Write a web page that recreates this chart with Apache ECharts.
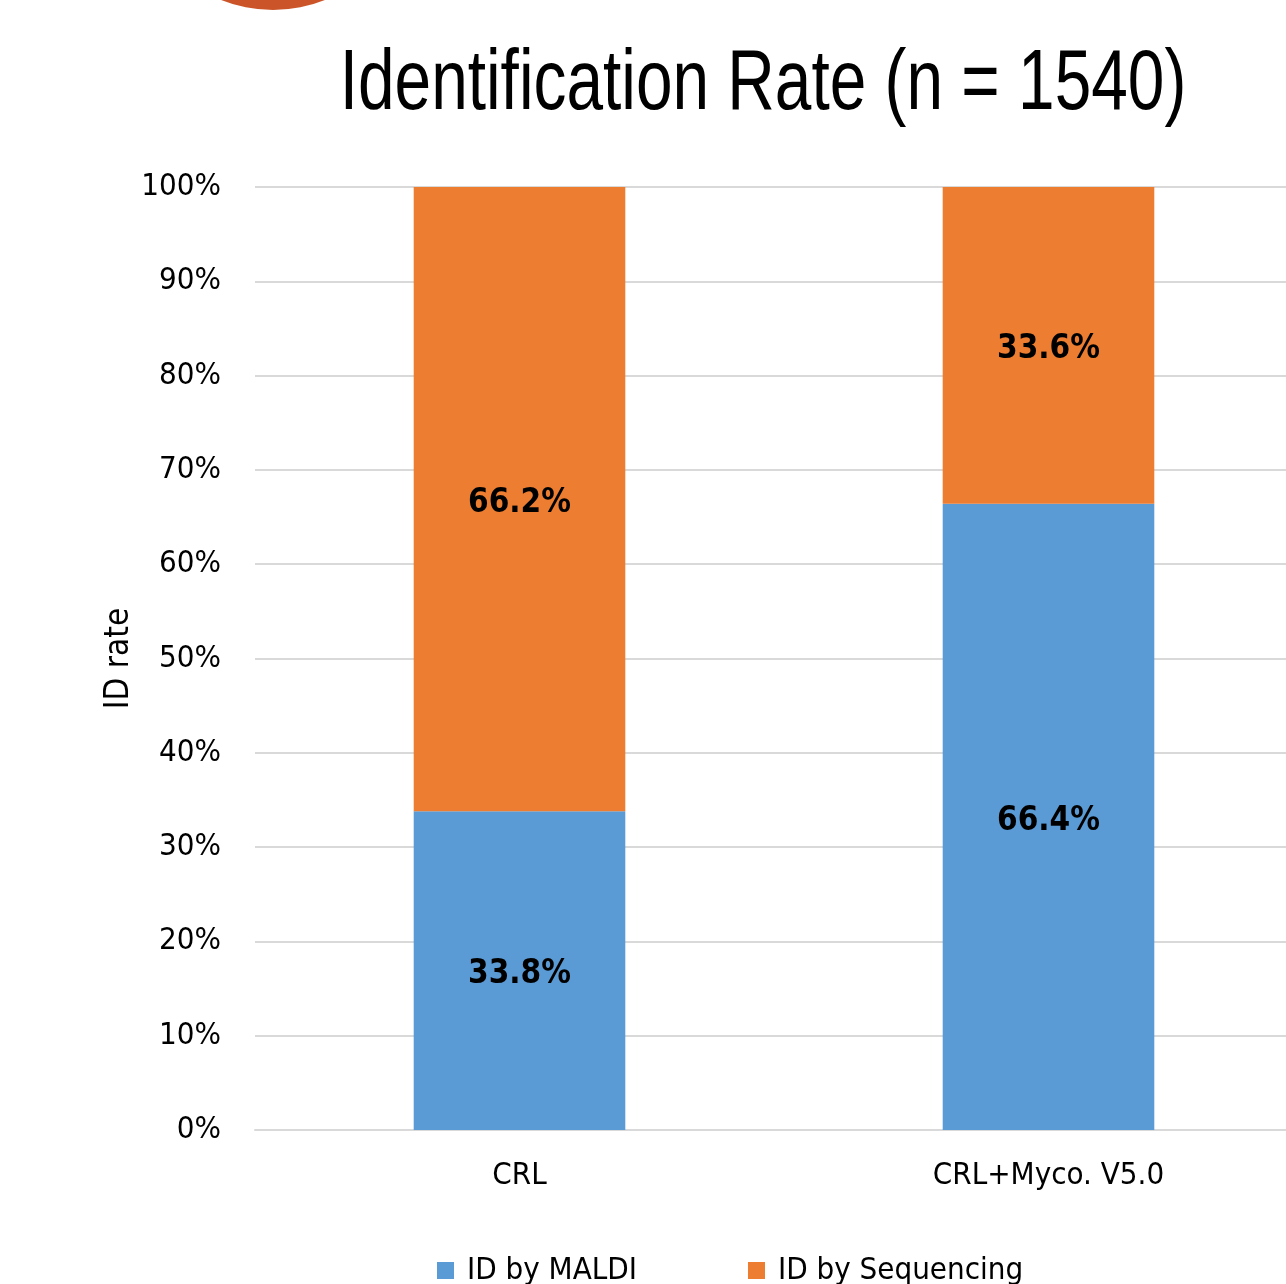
<!DOCTYPE html>
<html>
<head>
<meta charset="utf-8">
<script src="https://cdn.jsdelivr.net/npm/echarts@6/dist/echarts.min.js"></script>
<style>
  html, body { margin: 0; padding: 0; background: #fff; }
  #chart { width: 1286px; height: 1284px; }
</style>
</head>
<body>
<div id="chart"></div>
<script>
// 数据
const categories = ["CRL", "CRL+Myco. V5.0"];
const maldiValues = [33.8, 66.4]; // ID by MALDI
const seqValues = [66.2, 33.6]; // ID by Sequencing
const yTicks = [0, 10, 20, 30, 40, 50, 60, 70, 80, 90, 100];

// 没有 Arial Narrow，用窄体代替
const FONT = '"DejaVu Sans Condensed", "Liberation Sans", sans-serif';

const chart = echarts.init(document.getElementById("chart"));

const labelStyle = {
  show: true,
  position: "inside",
  offset: [0, 4],
  formatter: (p) => p.value.toFixed(1) + "%",
  color: "#000",
  fontFamily: FONT,
  fontWeight: "bold",
  fontSize: 33,
};

const option = {
  animation: false,
  textStyle: { fontFamily: FONT },
  graphic: [
    {
      // 左上角的橙色圆（幻灯片装饰）
      type: "circle",
      shape: { cx: 273, cy: -130, r: 140 },
      style: { fill: "#CB5529" },
      z: 10,
    },
    {
      // 标题：Arial 横向压缩，模拟 Arial Narrow
      type: "text",
      x: 763,
      y: 85,
      scaleX: 0.765,
      style: {
        text: "Identification Rate (n = 1540)",
        fontFamily: '"Liberation Sans", Arial, sans-serif',
        fontSize: 86,
        fill: "#000",
        align: "center",
        verticalAlign: "middle",
      },
    },
  ],
  legend: {
    left: 432,
    top: 1250,
    itemWidth: 17,
    itemHeight: 17,
    itemGap: 111,
    icon: "rect",
    textStyle: { fontFamily: FONT, fontSize: 31, color: "#000", padding: [0, 0, 0, 8] },
    data: ["ID by MALDI", "ID by Sequencing"],
  },
  grid: {
    left: 255,
    width: 1058,
    top: 187,
    bottom: 154,
    containLabel: false,
    outerBoundsMode: "none",
  },
  xAxis: {
    type: "category",
    data: categories,
    axisTick: { show: false },
    axisLine: { lineStyle: { color: "#d9d9d9", width: 2 } },
    axisLabel: {
      fontFamily: FONT,
      fontSize: 31,
      color: "#000",
      margin: 30,
    },
  },
  yAxis: {
    type: "value",
    min: yTicks[0],
    max: yTicks[yTicks.length - 1],
    interval: 10,
    name: "ID rate",
    nameLocation: "middle",
    nameGap: 119,
    nameMoveOverlap: false,
    nameTextStyle: { fontFamily: FONT, fontSize: 33, color: "#000" },
    axisLine: { show: false },
    axisTick: { show: false },
    axisLabel: {
      fontFamily: FONT,
      fontSize: 31,
      color: "#000",
      margin: 34,
      formatter: (v) => v + "%",
    },
    splitLine: { lineStyle: { color: "#d9d9d9", width: 2 } },
  },
  series: [
    {
      name: "ID by MALDI",
      type: "bar",
      stack: "total",
      barWidth: "40%",
      data: maldiValues,
      itemStyle: { color: "#5B9BD5" },
      label: labelStyle,
    },
    {
      name: "ID by Sequencing",
      type: "bar",
      stack: "total",
      barWidth: "40%",
      data: seqValues,
      itemStyle: { color: "#ED7D31" },
      label: labelStyle,
    },
  ],
};

chart.setOption(option);
</script>
</body>
</html>
